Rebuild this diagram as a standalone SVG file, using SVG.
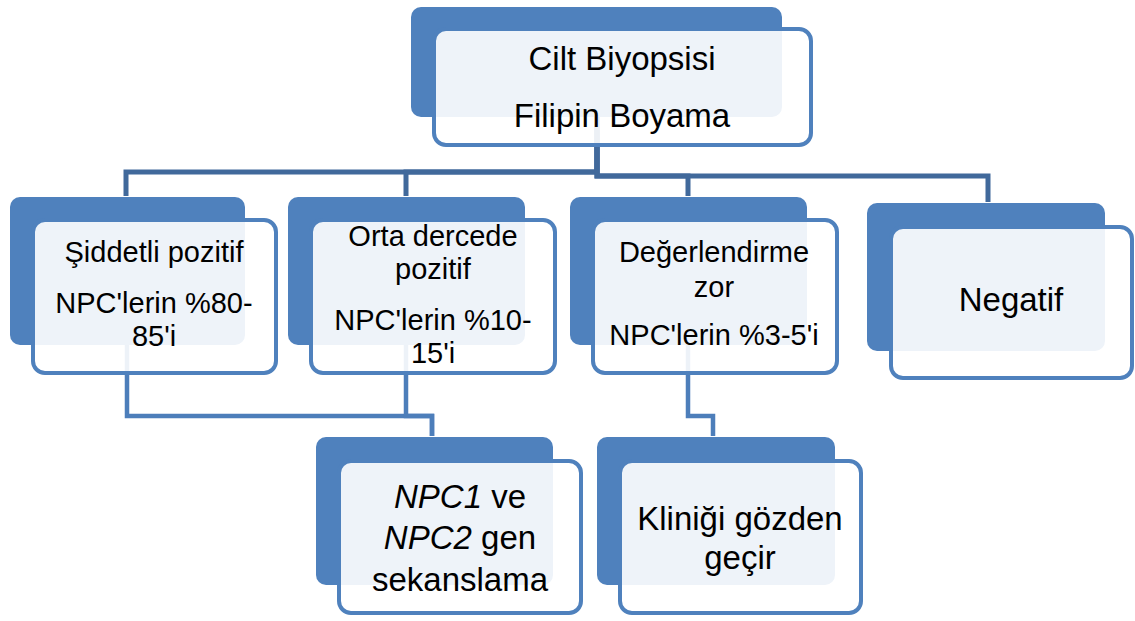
<svg xmlns="http://www.w3.org/2000/svg" width="1135" height="621" viewBox="0 0 1135 621">
<style>
.back{fill:#4F81BD}
.front{fill:#FFFFFF;fill-opacity:0.9;stroke:#4F81BD;stroke-width:4}
.t{font-family:"Liberation Sans",Arial,sans-serif;fill:#000;text-anchor:middle}
.s29{font-size:29px}
.s33{font-size:33px}
.c1{fill:none;stroke:#41699B;stroke-width:5}
.c2{fill:none;stroke:#4D7EBA;stroke-width:4.5}
</style>
<rect width="1135" height="621" fill="#FFFFFF"/>
<g id="connectors">
<path class="c1" d="M597,117 V172 H126 V196"/>
<path class="c1" d="M597,117 V172 H406 V196"/>
<path class="c1" d="M597,117 V176 H688 V196"/>
<path class="c1" d="M597,117 V176 H988 V202"/>
<path class="c2" d="M127,345 V416 H432 V436"/>
<path class="c2" d="M406,345 V416 H432 V436"/>
<path class="c2" d="M688,345 V416 H713 V436"/>
</g>
<g id="node-top">
<rect class="back" x="411" y="7" width="371" height="110" rx="10"/>
<rect class="front" x="434" y="29" width="377" height="116" rx="12"/>
<text class="t s33" x="622" y="70">Cilt Biyopsisi</text>
<text class="t s33" x="622" y="127">Filipin Boyama</text>
</g>
<g id="node-siddetli">
<rect class="back" x="10" y="197" width="235" height="148" rx="10"/>
<rect class="front" x="33" y="220" width="243" height="153" rx="12"/>
<text class="t s29" x="154" y="262">Şiddetli pozitif</text>
<text class="t s29" x="154" y="313">NPC'lerin %80-</text>
<text class="t s29" x="154" y="346">85'i</text>
</g>
<g id="node-orta">
<rect class="back" x="288" y="197" width="237" height="148" rx="10"/>
<rect class="front" x="311" y="220" width="244" height="153" rx="12"/>
<text class="t s29" x="433" y="246">Orta dercede</text>
<text class="t s29" x="433" y="279">pozitif</text>
<text class="t s29" x="433" y="330">NPC'lerin %10-</text>
<text class="t s29" x="433" y="363">15'i</text>
</g>
<g id="node-degerlendirme">
<rect class="back" x="570" y="197" width="237" height="148" rx="10"/>
<rect class="front" x="593" y="220" width="244" height="153" rx="12"/>
<text class="t s29" x="714" y="262">Değerlendirme</text>
<text class="t s29" x="714" y="297">zor</text>
<text class="t s29" x="714" y="345">NPC'lerin %3-5'i</text>
</g>
<g id="node-negatif">
<rect class="back" x="867" y="203" width="238" height="148" rx="10"/>
<rect class="front" x="891" y="227" width="241" height="151" rx="12"/>
<text class="t s33" x="1011" y="311">Negatif</text>
</g>
<g id="node-sekanslama">
<rect class="back" x="316" y="437" width="237" height="148" rx="10"/>
<rect class="front" x="339" y="461" width="242" height="152" rx="12"/>
<text class="t s33" x="460" y="508"><tspan font-style="italic">NPC1</tspan> ve</text>
<text class="t s33" x="460" y="549"><tspan font-style="italic">NPC2</tspan> gen</text>
<text class="t s33" x="460" y="591">sekanslama</text>
</g>
<g id="node-klinik">
<rect class="back" x="597" y="437" width="238" height="148" rx="10"/>
<rect class="front" x="620" y="461" width="241" height="152" rx="12"/>
<text class="t s33" x="740" y="530">Kliniği gözden</text>
<text class="t s33" x="740" y="569">geçir</text>
</g>
</svg>
